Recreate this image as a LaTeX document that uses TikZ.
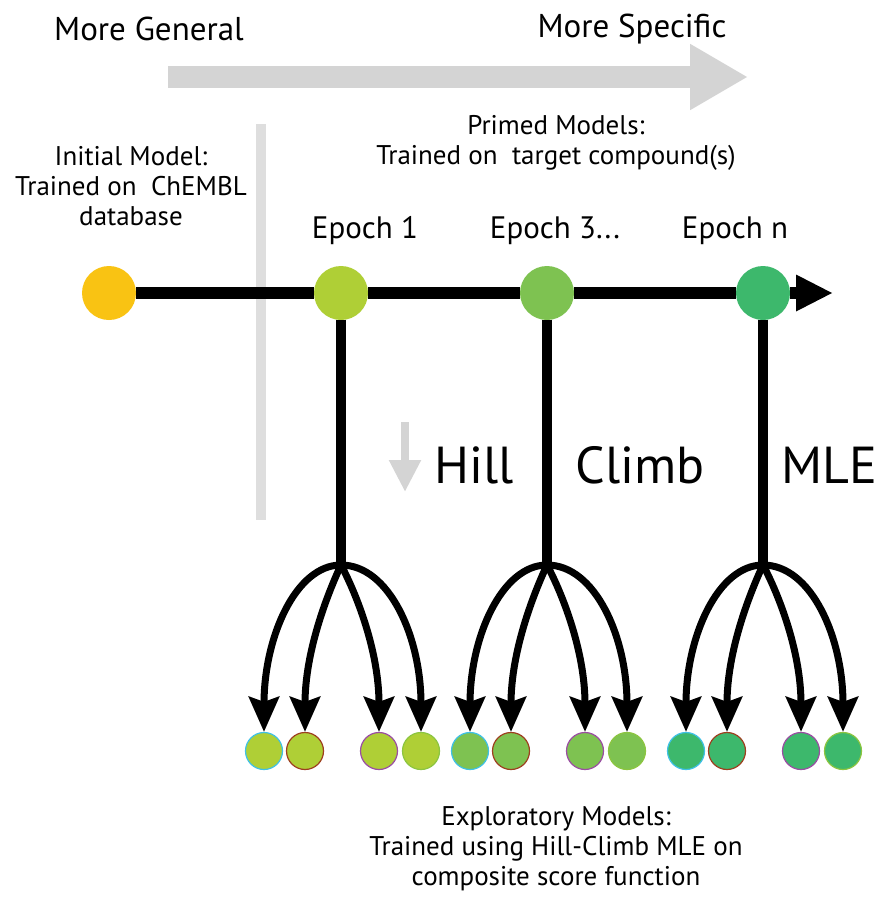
\documentclass[tikz,border=0pt]{standalone}
\usepackage{fontspec}
\setmainfont{PT Sans}
\usetikzlibrary{arrows.meta}
\definecolor{hcYellow}{HTML}{F9C313}
\definecolor{hcEpochA}{HTML}{AFCF36}
\definecolor{hcEpochB}{HTML}{7EC251}
\definecolor{hcEpochN}{HTML}{3DB86C}
\definecolor{hcGray}{HTML}{D4D4D4}
\definecolor{hcRule}{HTML}{DEDEDE}
\definecolor{hcCyan}{HTML}{3FC1E6}
\definecolor{hcBrown}{HTML}{9E3F1F}
\definecolor{hcPurple}{HTML}{9B4DA3}
\definecolor{hcLeaf}{HTML}{8CC540}
\tikzset{
  hc model/.style={circle, minimum size=54pt, inner sep=0pt},
  hc leaf/.style={circle, minimum size=37pt, inner sep=0pt, line width=1.2pt},
  hc main/.style={draw=black, line width=12pt, -{Triangle[length=37pt, width=34pt]}},
  hc stem/.style={draw=black, line width=10pt},
  hc branch/.style={draw=black, line width=7pt, -{Stealth[length=35pt, width=30pt, inset=5pt]}},
  hc trend/.style={draw=hcGray, line width=22pt, -{Triangle[length=58pt, width=62pt]}},
  hc cue/.style={draw=hcGray, line width=8pt, -{Triangle[length=32pt, width=30pt]}},
  hc label/.style={font=\fontsize{27}{30}\selectfont, align=center},
  hc big label/.style={font=\fontsize{31}{36}\selectfont},
  hc head label/.style={font=\fontsize{33}{38}\selectfont},
  hc huge label/.style={font=\fontsize{52}{62}\selectfont},
}

\begin{document}
\begin{tikzpicture}[x=1pt, y=-1pt]
  \useasboundingbox (0,0) rectangle (889,897);
  \fill[white] (0,0) rectangle (889,897);

  % Trend arrow from general to specific
  \coordinate (gen) at (168,77);
  \coordinate (spec) at (748,77);
  \draw[hc trend] (gen) -- (spec);
  \node[hc head label, anchor=base] (general) at (149,40) {More General};
  \node[hc head label, anchor=base] (specific) at (632,37) {More Specific};

  % Divider between initial and primed models
  \coordinate (divtop) at (261,124);
  \coordinate (divbot) at (261,520);
  \draw[draw=hcRule, line width=10pt] (divtop) -- (divbot);

  % Models along the training line
  \node[hc model, fill=hcYellow] (init) at (109,293) {};
  \node[hc model, fill=hcEpochA] (ep1) at (341,293) {};
  \node[hc model, fill=hcEpochB] (ep3) at (547,293) {};
  \node[hc model, fill=hcEpochN] (epn) at (763,293) {};
  \coordinate (lineend) at (833,293);
  \draw[hc main] (init) -- (ep1) -- (ep3) -- (epn) -- (lineend);

  \node[hc label] (initlbl) at (131,186) {Initial Model:\\Trained on\ \ ChEMBL\\database};
  \node[hc label] (primedlbl) at (556,143) {Primed Models:\\Trained on\ \ target compound(s)};
  \node[hc big label, anchor=base] (ep1lbl) at (365,238) {Epoch 1};
  \node[hc big label, anchor=base] (ep3lbl) at (555,238) {Epoch 3...};
  \node[hc big label, anchor=base] (epnlbl) at (735,238) {Epoch n};

  % Hill-climb labels with the small downward cue
  \coordinate (cuetop) at (405,422);
  \coordinate (cuetip) at (405,492);
  \draw[hc cue] (cuetop) -- (cuetip);
  \node[hc huge label, anchor=base] (hill) at (474,483) {Hill};
  \node[hc huge label, anchor=base] (climb) at (640,483) {Climb};
  \node[hc huge label, anchor=base] (mle) at (829,483) {MLE};

  % Each primed model fans out into four exploratory models
  \foreach \g/\sx/\col in {1/341/hcEpochA, 3/547/hcEpochB, n/763/hcEpochN} {
    \coordinate (j\g) at (\sx,565);
    \draw[hc stem] (ep\g) -- (j\g);
    \foreach \dx/\rim/\k in {-77/hcCyan/a, -36/hcBrown/b, 38/hcPurple/c, 80/hcLeaf/d}
      \node[hc leaf, fill=\col, draw=\rim] (leaf\g-\k) at ({\sx+\dx},751) {};
    \draw[hc branch] (j\g) .. controls +(-45,0) and +(0,-95) .. (leaf\g-a.north);
    \draw[hc branch] (j\g) .. controls +(-14,30) and +(0,-80) .. (leaf\g-b.north);
    \draw[hc branch] (j\g) .. controls +(16,30) and +(0,-80) .. (leaf\g-c.north);
    \draw[hc branch] (j\g) .. controls +(48,0) and +(0,-95) .. (leaf\g-d.north);
  }

  \node[hc label] (explbl) at (556,849) {Exploratory Models:\\Trained using Hill-Climb MLE on\\composite score function};
\end{tikzpicture}
\end{document}
